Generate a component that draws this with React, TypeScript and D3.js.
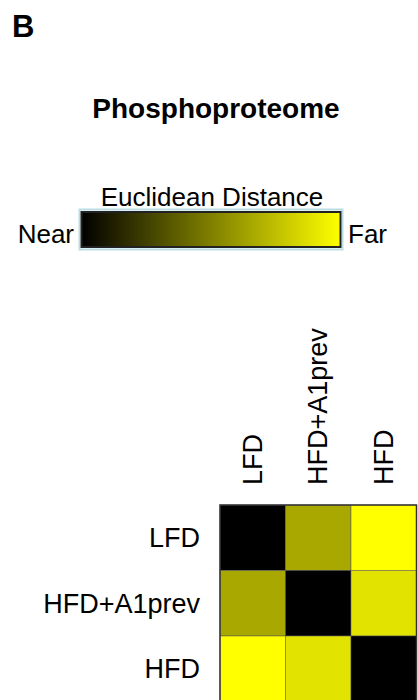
import React, { useEffect, useRef } from "react";
import * as d3 from "d3";

const groups = ["LFD", "HFD+A1prev", "HFD"];
// relative euclidean distance between groups (0 = near, 1 = far)
const distLFD = [0, 0.66, 1.0];
const distA1prev = [0.66, 0, 0.89];
const distHFD = [1.0, 0.89, 0];
const legendStops = [0, 1];

const W = 418;
const H = 700;

export default function App() {
  const svgRef = useRef<SVGSVGElement>(null);

  useEffect(() => {
    const svg = d3.select(svgRef.current);
    svg.selectAll("*").remove();
    const font = "Liberation Sans, Arial, sans-serif";

    const color = d3.scaleLinear<string>().domain([0, 1]).range(["#000000", "#ffff00"]);

    svg.append("text")
      .attr("x", 12)
      .attr("y", 37)
      .style("font-family", font)
      .style("font-weight", "bold")
      .style("font-size", "31px")
      .text("B");

    svg.append("text")
      .attr("x", 216)
      .attr("y", 118)
      .style("font-family", font)
      .style("font-weight", "bold")
      .style("font-size", "28px")
      .style("text-anchor", "middle")
      .text("Phosphoproteome");

    // legend
    const grad = svg.append("defs").append("linearGradient").attr("id", "legGrad");
    legendStops.forEach((s) => {
      grad.append("stop").attr("offset", `${s * 100}%`).attr("stop-color", color(s));
    });
    svg.append("rect")
      .attr("x", 79.5).attr("y", 209.5).attr("width", 263).attr("height", 40)
      .attr("fill", "none").attr("stroke", "#b9dde3").attr("stroke-width", 2);
    svg.append("rect")
      .attr("x", 81.5).attr("y", 212).attr("width", 259).attr("height", 35)
      .attr("fill", "url(#legGrad)").attr("stroke", "#222").attr("stroke-width", 2);
    svg.append("text")
      .attr("x", 212).attr("y", 206)
      .style("font-family", font).style("font-size", "26px")
      .style("text-anchor", "middle")
      .text("Euclidean Distance");
    svg.append("text")
      .attr("x", 74).attr("y", 243)
      .style("font-family", font).style("font-size", "26px")
      .style("text-anchor", "end")
      .text("Near");
    svg.append("text")
      .attr("x", 348).attr("y", 243)
      .style("font-family", font).style("font-size", "26px")
      .text("Far");

    // heatmap
    const rows = [distLFD, distA1prev, distHFD];
    const cells = rows.flatMap((r, i) => r.map((v, j) => ({ i, j, v })));
    const x = d3.scaleBand().domain(groups).range([220, 416.5]);
    const y = d3.scaleBand().domain(groups).range([505, 701.5]);

    const g = svg.append("g");
    g.selectAll("rect.cell")
      .data(cells)
      .join("rect")
      .attr("class", "cell")
      .attr("x", (d) => x(groups[d.j])!)
      .attr("y", (d) => y(groups[d.i])!)
      .attr("width", x.bandwidth())
      .attr("height", y.bandwidth())
      .attr("fill", (d) => color(d.v))
      .attr("stroke", "#555")
      .attr("stroke-width", 0.5);
    g.append("rect")
      .attr("x", 220).attr("y", 505)
      .attr("width", 196.5).attr("height", 196.5)
      .attr("fill", "none").attr("stroke", "#333").attr("stroke-width", 1.5);

    g.selectAll("text.rowlab")
      .data(groups)
      .join("text")
      .attr("class", "rowlab")
      .attr("x", 200)
      .attr("y", (d) => y(d)! + y.bandwidth() / 2)
      .attr("dy", "0.36em")
      .style("font-family", font).style("font-size", "27px")
      .style("text-anchor", "end")
      .text((d) => d);

    g.selectAll("text.collab")
      .data(groups)
      .join("text")
      .attr("class", "collab")
      .attr("transform", (d) => `translate(${x(d)! + x.bandwidth() / 2 + 9},485) rotate(-90)`)
      .style("font-family", font).style("font-size", "27px")
      .text((d) => d);
  }, []);

  return (
    <svg
      ref={svgRef}
      width={W}
      height={H}
      style={{ position: "absolute", left: 0, top: 0, display: "block", background: "white" }}
    />
  );
}
